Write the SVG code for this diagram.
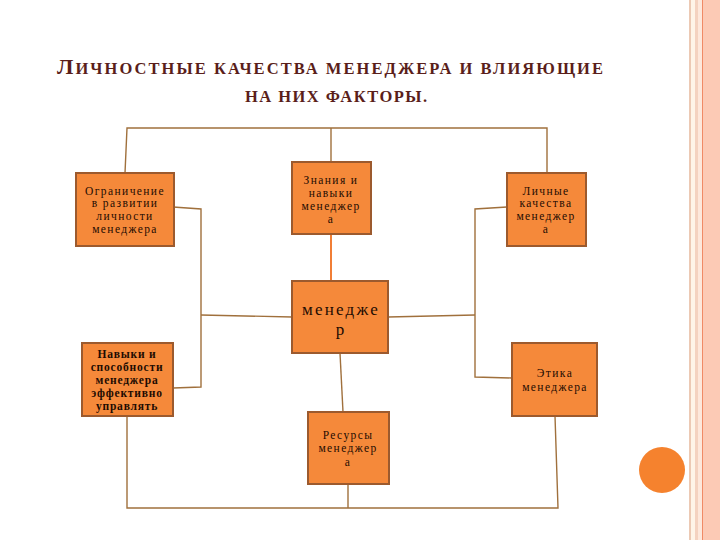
<svg xmlns="http://www.w3.org/2000/svg" width="720" height="540" viewBox="0 0 720 540">
<style>
.box{fill:#F5893A;stroke:#9C5A2E;stroke-width:2}
.t{font-family:"Liberation Serif","DejaVu Serif",serif;font-size:11.5px;fill:#1E0C02;text-anchor:middle;letter-spacing:1.4px}
.tb{font-weight:bold;letter-spacing:0.8px}
.big{font-size:17px;letter-spacing:2.2px}
.ln{fill:none;stroke:#A0703C;stroke-width:1.4}
.lo{fill:none;stroke:#F07020;stroke-width:1.8}
.title{font-family:"Liberation Serif","DejaVu Serif",serif;fill:#5A1E1A;font-weight:bold}
</style>
<rect width="720" height="540" fill="#fff"/>
<g id="border">
<rect x="689" y="0" width="2" height="540" fill="#ECC9B4"/>
<rect x="691" y="0" width="4" height="540" fill="#FEF4E8"/>
<rect x="695" y="0" width="3" height="540" fill="#F4D2C0"/>
<rect x="698" y="0" width="4" height="540" fill="#FDE8DC"/>
<rect x="702" y="0" width="1.2" height="540" fill="#F08A66"/>
<rect x="703" y="0" width="17" height="540" fill="#FCCAB5"/>
<circle cx="662" cy="470" r="23" fill="#F5822E"/>
</g>
<g id="title">
<text class="title" x="57" y="74" font-size="16.5" textLength="546" lengthAdjust="spacing"><tspan font-size="22">Л</tspan>ИЧНОСТНЫЕ КАЧЕСТВА МЕНЕДЖЕРА И ВЛИЯЮЩИЕ</text>
<text class="title" x="245" y="102" font-size="16.5" textLength="182" lengthAdjust="spacing">НА НИХ ФАКТОРЫ.</text>
</g>
<g id="connectors">
<polyline class="ln" points="125,173 127,128 547,128 547,173"/>
<line class="ln" x1="331" y1="128" x2="331" y2="162"/>
<line class="lo" x1="331" y1="234" x2="331" y2="281"/>
<polyline class="ln" points="173,207 201,209 201,387 173,388"/>
<line class="ln" x1="201" y1="315" x2="292" y2="317"/>
<polyline class="ln" points="507,207 475,209 475,377 512,378"/>
<line class="ln" x1="388" y1="317" x2="475" y2="315"/>
<line class="ln" x1="340" y1="353" x2="343" y2="412"/>
<polyline class="ln" points="127,416 127,508 558,508 555,416"/>
<line class="ln" x1="348" y1="484" x2="348" y2="508"/>
</g>
<g id="n1"><rect class="box" x="76" y="173" width="98" height="73"/>
<text class="t"><tspan x="125" y="195">Ограничение</tspan><tspan x="125" y="207">в развитии</tspan><tspan x="125" y="220">личности</tspan><tspan x="125" y="233">менеджера</tspan></text></g>
<g id="n2"><rect class="box" x="292" y="162" width="79" height="72"/>
<text class="t"><tspan x="331" y="184">Знания и</tspan><tspan x="331" y="197">навыки</tspan><tspan x="331" y="210">менеджер</tspan><tspan x="331" y="223">а</tspan></text></g>
<g id="n3"><rect class="box" x="507" y="173" width="79" height="73"/>
<text class="t"><tspan x="546" y="195">Личные</tspan><tspan x="546" y="207">качества</tspan><tspan x="546" y="220">менеджер</tspan><tspan x="546" y="233">а</tspan></text></g>
<g id="n4"><rect class="box" x="292" y="281" width="96" height="72"/>
<text class="t big"><tspan x="341" y="315">менедже</tspan><tspan x="341" y="335">р</tspan></text></g>
<g id="n5"><rect class="box" x="82" y="343" width="91" height="73"/>
<text class="t tb"><tspan x="127" y="358">Навыки и</tspan><tspan x="127" y="371">способности</tspan><tspan x="127" y="384">менеджера</tspan><tspan x="127" y="397">эффективно</tspan><tspan x="127" y="410">управлять</tspan></text></g>
<g id="n6"><rect class="box" x="512" y="343" width="85" height="73"/>
<text class="t"><tspan x="555" y="377">Этика</tspan><tspan x="555" y="391">менеджера</tspan></text></g>
<g id="n7"><rect class="box" x="308" y="412" width="81" height="72"/>
<text class="t"><tspan x="348" y="439">Ресурсы</tspan><tspan x="348" y="452">менеджер</tspan><tspan x="348" y="466">а</tspan></text></g>
</svg>
